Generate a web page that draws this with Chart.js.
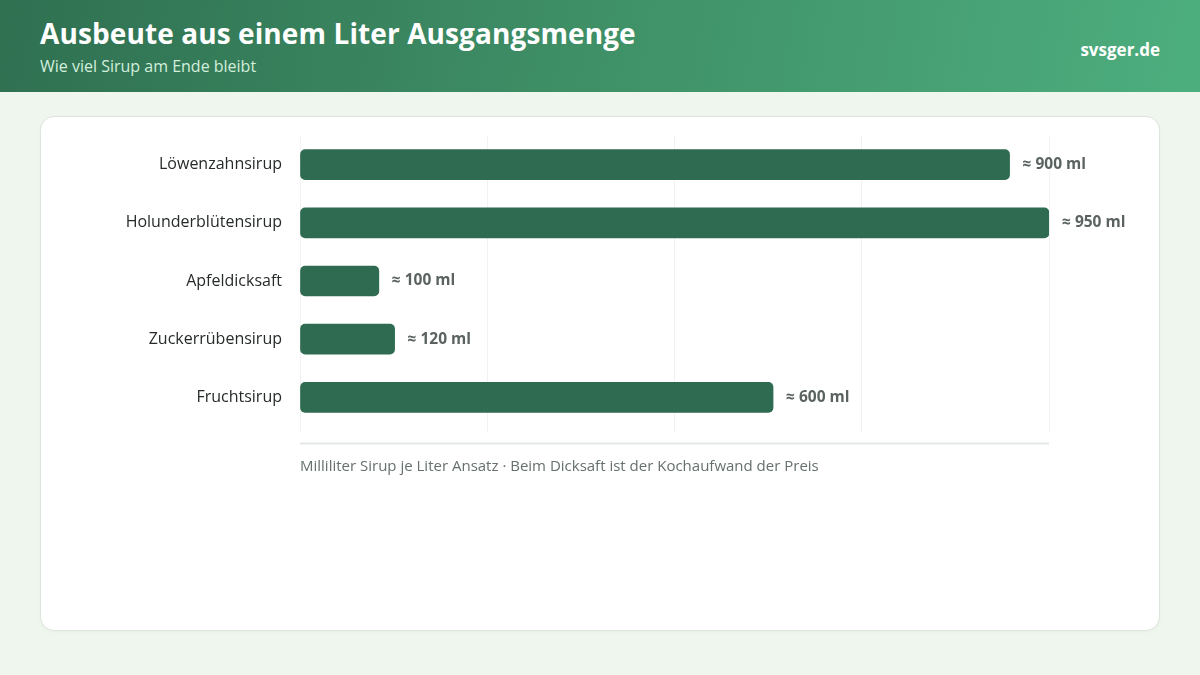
<!DOCTYPE html>
<html lang="de">
<head>
<meta charset="utf-8">
<script src="https://cdn.jsdelivr.net/npm/chart.js@4.4.1/dist/chart.umd.min.js"></script>
<style>
  html, body { margin: 0; padding: 0; }
  body { width: 1200px; height: 675px; background: #eff6ee; font-family: "Open Sans", sans-serif; position: relative; overflow: hidden; }
  .header { position: absolute; left: 0; top: 0; width: 1200px; height: 92px;
    background: linear-gradient(100deg, #2f7051 0%, #3f9067 50%, #4dae7e 100%); }
  .title { position: absolute; left: 40px; top: 14px; color: #fff; font-weight: 700; font-size: 28px; letter-spacing: 0.1px; }
  .subtitle { position: absolute; left: 40px; top: 55px; color: #d3efdc; font-size: 16px; }
  .site { position: absolute; right: 40px; top: 38px; color: #fff; font-weight: 700; font-size: 17px; }
  .card { position: absolute; left: 40px; top: 116px; width: 1118px; height: 513px; background: #fff;
    border: 1px solid #dde6dc; border-radius: 14px; box-shadow: 0 1px 3px rgba(0,0,0,0.03); }
  .card canvas { position: absolute; left: -1px; top: -1px; }
</style>
</head>
<body>
<div class="header">
  <div class="title">Ausbeute aus einem Liter Ausgangsmenge</div>
  <div class="subtitle">Wie viel Sirup am Ende bleibt</div>
  <div class="site">svsger.de</div>
</div>
<div class="card"><canvas id="c" width="1120" height="515"></canvas></div>
<script>
const categories = ["Löwenzahnsirup", "Holunderblütensirup", "Apfeldicksaft", "Zuckerrübensirup", "Fruchtsirup"];
const values = [900, 950, 100, 120, 600];
const valueLabels = ["≈ 900 ml", "≈ 950 ml", "≈ 100 ml", "≈ 120 ml", "≈ 600 ml"];
const footnote = "Milliliter Sirup je Liter Ansatz · Beim Dicksaft ist der Kochaufwand der Preis";
const axisMax = 950;

const FONT = "'Open Sans', sans-serif";

const valueLabelPlugin = {
  id: 'valueLabels',
  afterDatasetsDraw(chart) {
    const ctx = chart.ctx;
    const meta = chart.getDatasetMeta(0);
    ctx.save();
    ctx.font = "700 15.5px " + FONT;
    ctx.fillStyle = "#5a6360";
    ctx.textAlign = "left";
    ctx.textBaseline = "middle";
    meta.data.forEach((bar, i) => {
      ctx.fillText(valueLabels[i], bar.x + 13, bar.y);
    });
    ctx.restore();
  }
};

const baseLinePlugin = {
  id: 'baseLine',
  beforeDatasetsDraw(chart) {
    const {ctx, chartArea} = chart;
    ctx.save();
    ctx.strokeStyle = "#e4e8e6";
    ctx.lineWidth = 2;
    ctx.beginPath();
    ctx.moveTo(chartArea.left, chartArea.bottom + 17);
    ctx.lineTo(chartArea.right, chartArea.bottom + 17);
    ctx.stroke();
    ctx.restore();
  }
};

new Chart(document.getElementById('c'), {
  type: 'bar',
  data: {
    labels: categories,
    datasets: [{
      data: values,
      backgroundColor: "#2e6b50",
      borderRadius: 5,
      borderSkipped: false,
      barThickness: 30
    }]
  },
  options: {
    indexAxis: 'y',
    responsive: false,
    animation: false,
    devicePixelRatio: 1,
    layout: { padding: { left: 0, right: 111, top: 14, bottom: 155.6 } },
    plugins: { legend: { display: false }, tooltip: { enabled: false } },
    scales: {
      x: {
        min: 0, max: axisMax,
        ticks: { display: false, stepSize: axisMax / 4 },
        grid: { color: "#f1f3f2", lineWidth: 1, drawTicks: true, tickLength: 6 },
        border: { display: false },
        title: {
          display: true, text: footnote, align: 'start',
          color: "#66706c", font: { family: FONT, size: 15 },
          padding: { top: 25, bottom: 0 }
        }
      },
      y: {
        afterFit(scale) { scale.width = 260; },
        grid: { display: false },
        border: { display: false },
        ticks: { color: "#262b29", font: { family: FONT, size: 16 }, padding: 10 }
      }
    }
  },
  plugins: [valueLabelPlugin, baseLinePlugin]
});
</script>
</body>
</html>
